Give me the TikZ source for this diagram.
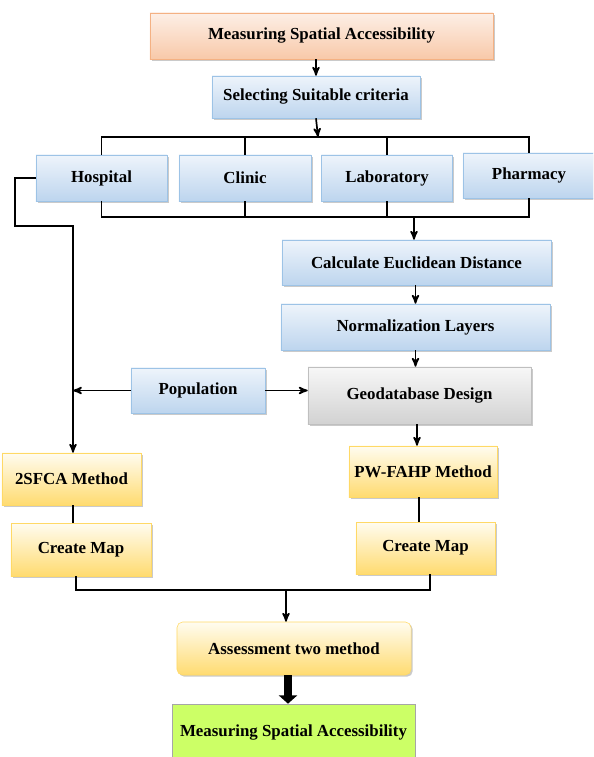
\documentclass[tikz,border=0pt]{standalone}
\usepackage{fontspec}
\setmainfont{Liberation Serif}
\usetikzlibrary{shapes,arrows,arrows.meta,positioning,shadows}
\definecolor{peachtop}{HTML}{FDEFE6}
\definecolor{peachbot}{HTML}{F8C9A9}
\definecolor{peachline}{HTML}{F4B183}
\definecolor{bluetop}{HTML}{EEF4FB}
\definecolor{bluebot}{HTML}{BDD5EE}
\definecolor{blueline}{HTML}{9DC3E6}
\definecolor{yeltop}{HTML}{FFFCF0}
\definecolor{yelbot}{HTML}{FFDB70}
\definecolor{yelline}{HTML}{FFD966}
\definecolor{graytop}{HTML}{F7F7F7}
\definecolor{graybot}{HTML}{D2D2D2}
\definecolor{limefill}{HTML}{CCFF66}

\begin{document}
\begin{tikzpicture}[x=0.025cm,y=-0.025cm,->,>=stealth',very thick,
  plain box/.style={draw,thin,rectangle,inner sep=0pt,font=\fontsize{12}{14}\selectfont\bfseries},
  step box/.style={plain box,drop shadow={shadow xshift=1.2pt,shadow yshift=-1.2pt,fill=gray!70,opacity=.6}},
  orange box/.style={step box,draw=peachline,top color=peachtop,bottom color=peachbot},
  blue box/.style={step box,draw=blueline,top color=bluetop,bottom color=bluebot},
  yellow box/.style={step box,draw=yelline,top color=yeltop,bottom color=yelbot},
  gray box/.style={step box,draw=gray!50,top color=graytop,bottom color=graybot},
  green box/.style={plain box,draw=gray!70,fill=limefill}]
  \clip (0,0) rectangle (593,757);
  % criteria
  \node[orange box,minimum width=8.575cm,minimum height=1.15cm] (msa) at (321.5,36) {Measuring Spatial Accessibility};
  \node[blue box,minimum width=5.2cm,minimum height=1.05cm] (sel) at (316,97) {Selecting Suitable criteria};
  \node[blue box,minimum width=3.275cm,minimum height=1.15cm] (hosp) at (101.5,178) {Hospital};
  \node[blue box,minimum width=3.3cm,minimum height=1.15cm] (clin) at (245,178) {Clinic};
  \node[blue box,minimum width=3.275cm,minimum height=1.15cm] (lab) at (387,178) {Laboratory};
  \node[blue box,minimum width=3.3cm,minimum height=1.125cm] (phar) at (529,175.5) {Pharmacy};
  % right branch
  \node[blue box,minimum width=6.725cm,minimum height=1.125cm] (calc) at (416.5,262.5) {Calculate Euclidean Distance};
  \node[blue box,minimum width=6.725cm,minimum height=1.15cm] (norm) at (415.5,327) {Normalization Layers};
  \node[gray box,minimum width=5.575cm,minimum height=1.425cm] (geo) at (419.5,395.5) {Geodatabase Design};
  \node[blue box,minimum width=3.35cm,minimum height=1.125cm] (pop) at (198,390.5) {Population};
  \node[yellow box,minimum width=3.7cm,minimum height=1.275cm] (pwf) at (423,471.5) {PW-FAHP Method};
  \node[yellow box,minimum width=3.475cm,minimum height=1.3cm] (mapr) at (425.5,548) {Create Map};
  % left branch
  \node[yellow box,minimum width=3.475cm,minimum height=1.3cm] (sfca) at (71.5,479) {2SFCA Method};
  \node[yellow box,minimum width=3.5cm,minimum height=1.325cm] (mapl) at (81,549.5) {Create Map};
  % result
  \node[yellow box,rounded corners=4pt,minimum width=5.85cm,minimum height=1.325cm] (asm) at (294,648.5) {Assessment two method};
  \node[green box,minimum width=6.075cm,minimum height=1.4cm] (res) at (293.5,732) {Measuring Spatial Accessibility};

  \coordinate (busA) at (318,137);
  \coordinate (busB) at (414,217);
  \coordinate (elbow) at (73,226);
  \coordinate (busC) at (286,590);
  \coordinate (geoX) at (417,0);
  \coordinate (pwfX) at (419,0);
  \coordinate (maplX) at (76,0);
  \coordinate (maprX) at (430,0);
  \coordinate (asmX) at (288,0);

  \draw (msa.south -| sel.north) -- (sel.north);
  \draw (sel.south) -- (busA);
  \draw[-] (hosp.north) |- (busA) -| (phar.north);
  \draw[-] (clin.north) -- (clin.north |- busA);
  \draw[-] (lab.north) -- (lab.north |- busA);
  \draw[-] (hosp.south) |- (busB) -| (phar.south);
  \draw[-] (clin.south) -- (clin.south |- busB);
  \draw[-] (lab.south) -- (lab.south |- busB);
  \draw (busB) -- (busB |- calc.north);
  \draw (norm.north |- calc.south) -- (norm.north);
  \draw (norm.south) -- (norm.south |- geo.north);
  \draw (pop.east) -- (pop.east -| geo.west);
  \draw (pop.west) -- (pop.west -| elbow);
  \draw (hosp.west) -- ++(-21,0) |- (elbow) -- (elbow |- sfca.north);
  \draw[-] (elbow |- sfca.south) -- (elbow |- mapl.north);
  \draw (geoX |- geo.south) -- (geoX |- pwf.north);
  \draw[-] (pwfX |- pwf.south) -- (pwfX |- mapr.north);
  \draw[-] (maplX |- mapl.south) |- (busC) -| (maprX |- mapr.south);
  \draw (busC) -- (busC |- asm.north);
  \draw[-{Triangle[width=13pt,length=6pt]},line width=6pt] (asmX |- asm.south) -- (asmX |- res.north);
\end{tikzpicture}
\end{document}
